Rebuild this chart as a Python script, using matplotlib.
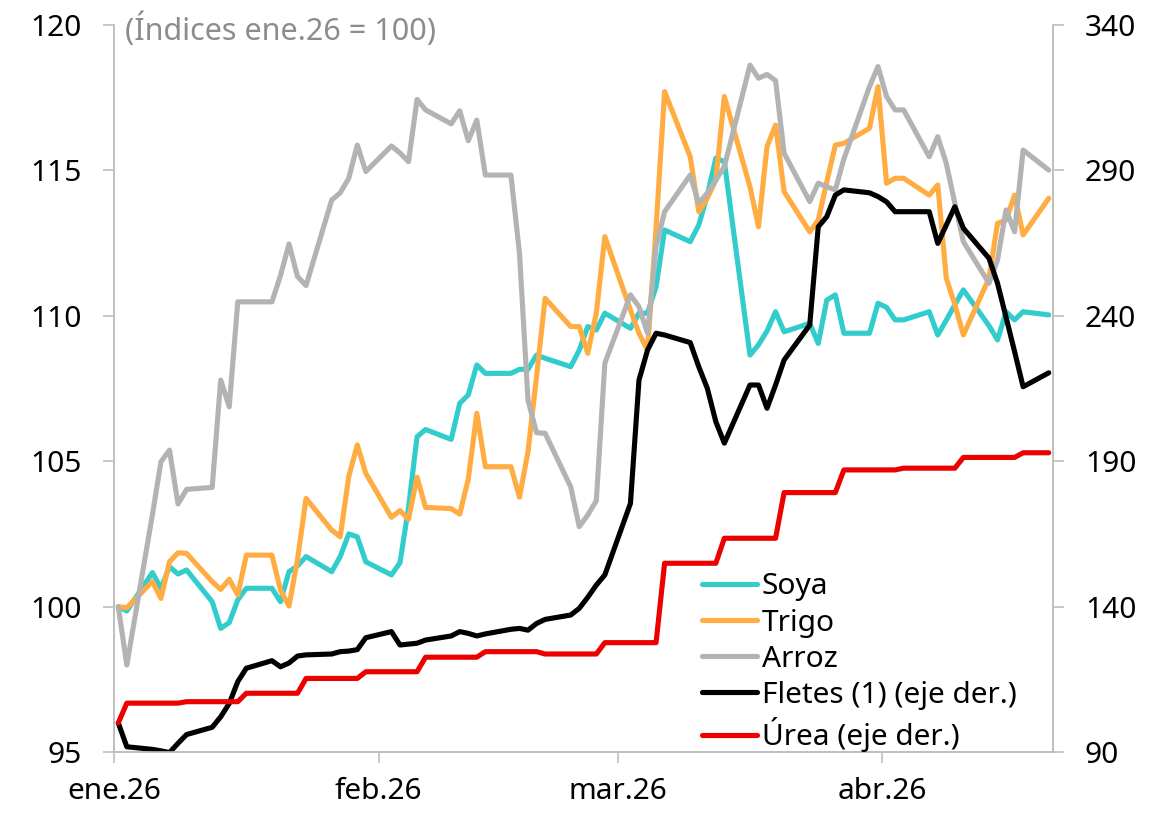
import matplotlib
matplotlib.use("Agg")
import matplotlib.pyplot as plt
import pandas as pd

plt.rcParams['font.family'] = ['Noto Sans', 'DejaVu Sans']

# Business days from 1 Jan 2026 to 20 Apr 2026 (category axis)
fechas = pd.bdate_range("2026-01-01", "2026-04-20")

soya = [100.0, 99.85, 101.17, 100.63, 101.37, 101.12, 101.26,
        100.17, 99.25, 99.45, 100.23, 100.63,
        100.63, 100.17, 101.2, 101.4, 101.72,
        101.2, 101.72, 102.5, 102.4, 101.54,
        101.09, 101.51, 103.4, 105.84, 106.09,
        105.75, 106.99, 107.28, 108.31, 108.02,
        108.02, 108.16, 108.16, 108.65, 108.54,
        108.25, 108.82, 109.63, 109.51, 110.09,
        109.57, 110.09, 110.09, 111.0, 112.95,
        112.55, 113.12, 114.14, 115.42, 115.3,
        108.65, 109.0, 109.48, 110.14, 109.45,
        109.74, 109.05, 110.54, 110.72, 109.4,
        109.4, 110.43, 110.29, 109.86, 109.86,
        110.14, 109.34, 109.85, 110.38, 110.89,
        109.66, 109.17, 110.14, 109.86, 110.14,
        110.03]

trigo = [100.0, 99.96, 100.86, 100.28, 101.54, 101.85, 101.83,
         100.86, 100.59, 100.94, 100.4, 101.77,
         101.77, 100.57, 100.02, 101.63, 103.72,
         102.63, 102.4, 104.47, 105.56, 104.58,
         103.07, 103.3, 103.0, 104.45, 103.41,
         103.37, 103.18, 104.38, 106.65, 104.81,
         104.81, 103.76, 105.33, 107.92, 110.6,
         109.63, 109.63, 108.71, 110.09, 112.72,
         110.2, 109.4, 108.82, 113.02, 117.71,
         115.47, 113.58, 114.04, 114.67, 117.54,
         114.44, 113.06, 115.82, 116.56, 114.27,
         112.89, 113.29, 114.61, 115.87, 115.93,
         116.45, 117.88, 114.56, 114.73, 114.73,
         114.15, 114.5, 111.29, 110.39, 109.34,
         111.29, 113.18, 113.29, 114.15, 112.78,
         114.04]

arroz = [100.0, 97.99, 103.16, 104.98, 105.38, 103.53, 104.03,
         104.1, 107.79, 106.87, 110.48, 110.48,
         110.48, 111.38, 112.47, 111.35, 111.04,
         113.98, 114.23, 114.73, 115.87, 114.96,
         115.84, 115.6, 115.3, 117.44, 117.08,
         116.6, 117.05, 116.02, 116.73, 114.84,
         114.84, 112.15, 107.1, 105.98, 105.96,
         104.12, 102.75, 103.15, 103.64, 108.37,
         110.72, 110.31, 109.4, 112.38, 113.58,
         114.84, 113.87, 114.22, 114.67, 115.13,
         118.62, 118.17, 118.3, 118.09, 115.59,
         113.93, 114.56, 114.44, 114.33, 115.39,
         117.88, 118.57, 117.54, 117.08, 117.08,
         115.47, 116.16, 115.24, 113.87, 112.55,
         111.12, 111.92, 113.64, 112.89, 115.7,
         115.01]

fletes = [100.0, 91.8, 90.9, 90.4, 89.8, 93.0, 96.0,
          98.5, 102.1, 106.7, 114.2, 118.8,
          121.4, 119.3, 120.6, 123.0, 123.4,
          123.7, 124.5, 124.7, 125.2, 129.3,
          131.4, 126.8, 127.1, 127.4, 128.5,
          129.9, 131.4, 130.8, 129.9, 130.6,
          132.2, 132.5, 131.9, 134.2, 135.6,
          137.1, 139.4, 143.2, 147.4, 150.9,
          175.5, 217.9, 228.2, 234.0, 233.4,
          230.8, 222.5, 215.1, 203.6, 196.2,
          216.2, 216.2, 208.2, 216.2, 224.8,
          236.8, 270.6, 274.1, 281.5, 283.3,
          282.3, 281.0, 279.2, 275.8, 275.8,
          275.8, 264.9, 271.2, 277.5, 270.1,
          259.8, 251.2, 239.5, 227.7, 215.6,
          220.4]

urea = [100.0, 106.8, 106.8, 106.8, 106.8, 106.8, 107.3,
        107.3, 107.3, 107.3, 107.3, 110.2,
        110.2, 110.2, 110.2, 110.2, 115.3,
        115.3, 115.3, 115.3, 115.3, 117.6,
        117.6, 117.6, 117.6, 117.6, 122.6,
        122.6, 122.6, 122.6, 122.6, 124.5,
        124.5, 124.5, 124.5, 124.5, 123.7,
        123.7, 123.7, 123.7, 123.7, 127.6,
        127.6, 127.6, 127.6, 127.6, 154.9,
        154.9, 154.9, 154.9, 154.9, 163.5,
        163.5, 163.5, 163.5, 163.5, 179.2,
        179.2, 179.2, 179.2, 179.2, 187.0,
        187.0, 187.0, 187.0, 187.0, 187.6,
        187.6, 187.6, 187.6, 187.6, 191.3,
        191.3, 191.3, 191.3, 191.3, 192.9,
        192.9]

etiquetas = ["Soya", "Trigo", "Arroz", "Fletes (1) (eje der.)", "Úrea (eje der.)"]
tick_labels_x = ["ene.26", "feb.26", "mar.26", "abr.26"]
tick_pos_x = pd.to_datetime(["2025-12-31 12:00", "2026-01-31 12:00",
                             "2026-02-28 12:00", "2026-03-31 12:00"])
left_ticks = [95, 100, 105, 110, 115, 120]
right_ticks = [90, 140, 190, 240, 290, 340]

c_soya = "#33CCCC"
c_trigo = "#FFAD42"
c_arroz = "#B3B3B3"
c_fletes = "#000000"
c_urea = "#EC0000"
c_axis = "#BFBFBF"

fig = plt.figure(figsize=(11.68, 8.13), dpi=100)
ax = fig.add_axes([114/1168, 1-752/813, (1053-114)/1168, (752-25)/813])
ax2 = ax.twinx()

lw = 3.7
kw = dict(lw=lw, solid_joinstyle='round', solid_capstyle='round')
l1, = ax.plot(fechas, soya, color=c_soya, label=etiquetas[0], **kw)
l2, = ax.plot(fechas, trigo, color=c_trigo, label=etiquetas[1], **kw)
l3, = ax.plot(fechas, arroz, color=c_arroz, label=etiquetas[2], **kw)
l4, = ax2.plot(fechas, fletes, color=c_fletes, label=etiquetas[3], **kw)
l5, = ax2.plot(fechas, urea, color=c_urea, label=etiquetas[4], **kw)

ax.set_xlim(pd.Timestamp("2025-12-31 12:00"), pd.Timestamp("2026-04-20 12:00"))
ax.set_ylim(95, 120)
ax2.set_ylim(90, 340)
ax.set_yticks(left_ticks)
ax2.set_yticks(right_ticks)
ax.set_xticks(tick_pos_x)
ax.set_xticklabels(tick_labels_x)

fs = 21.5
for a in (ax, ax2):
    for s in a.spines.values():
        s.set_color(c_axis)
        s.set_linewidth(1.2)
    a.spines['top'].set_visible(False)
ax.tick_params(axis='both', which='major', direction='out', length=8, width=1.2,
               color=c_axis, labelsize=fs, labelcolor='black')
ax.tick_params(axis='y', pad=15)
ax.tick_params(axis='x', pad=10)
ax2.tick_params(axis='y', direction='out', length=8, width=1.2, color=c_axis,
                labelsize=fs, labelcolor='black', pad=15)

ax.text(0.012, 0.993, "(Índices ene.26 = 100)", transform=ax.transAxes,
        ha='left', va='center', fontsize=fs + 0.5, color="#8C8C8C")

leg = ax2.legend(handles=[l1, l2, l3, l4, l5], loc='upper left',
                 bbox_to_anchor=(0.626, 0.247), frameon=False, fontsize=fs,
                 handlelength=1.85, handletextpad=0.15, labelspacing=0.24,
                 borderpad=0, borderaxespad=0)

fig.savefig("out.png", dpi=100)
